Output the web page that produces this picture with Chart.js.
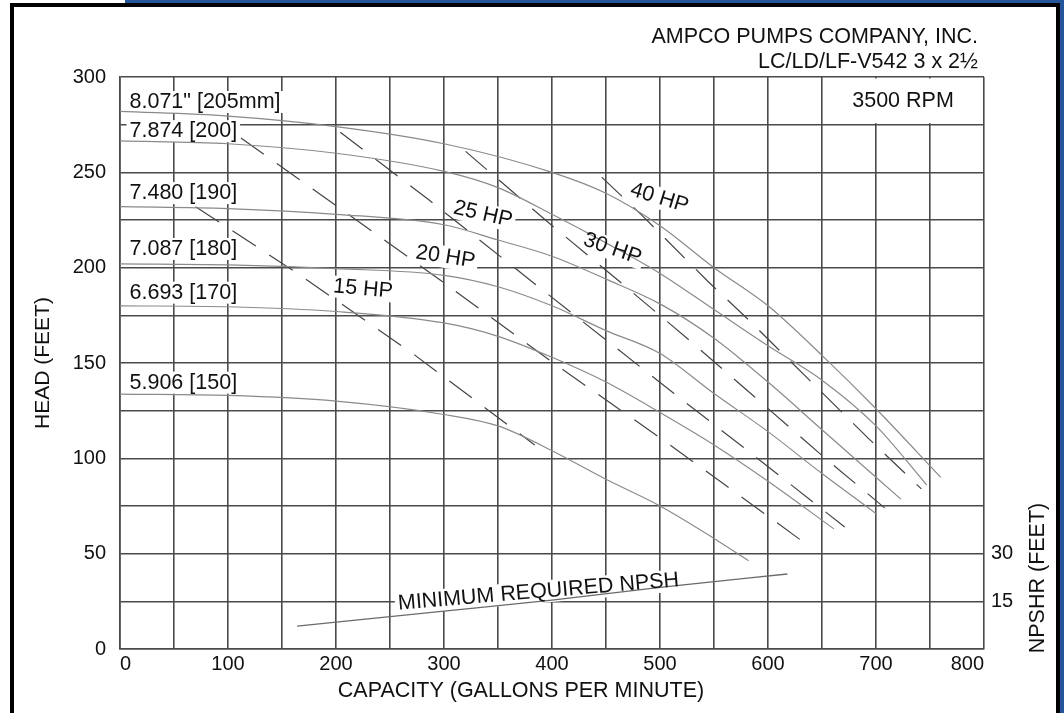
<!DOCTYPE html>
<html>
<head>
<meta charset="utf-8">
<script src="https://cdn.jsdelivr.net/npm/chart.js@4.4.0/dist/chart.umd.min.js"></script>
<style>
  html, body { margin: 0; padding: 0; background: #fff; }
  body { width: 1064px; height: 713px; position: relative; overflow: hidden; }
  #blueTop { position: absolute; left: 125px; top: 0; width: 939px; height: 4px; background: #24559b; }
  #blueRight { position: absolute; left: 1060px; top: 0; width: 4px; height: 713px; background: #24559b; }
  #frame { position: absolute; left: 10px; top: 3px; width: 1042px; height: 760px; border: 4px solid #000; border-bottom: none; }
  #pumpChart { position: absolute; left: 0; top: 0; }
</style>
</head>
<body>
<div id="blueTop"></div>
<div id="blueRight"></div>
<div id="frame"></div>
<canvas id="pumpChart" width="1064" height="713"></canvas>
<script>
// tick labels
const gpmTicks = [0, 100, 200, 300, 400, 500, 600, 700, 800];
const headTicks = [0, 50, 100, 150, 200, 250, 300];
const npshTicks = [15, 30];

// impeller curves (capacity gpm / head ft)
const gpm205 = [0, 100, 200, 300, 400, 450, 500, 550, 600, 650, 700, 760];
const head205 = [282, 279.5, 274, 265, 250, 239, 222, 200, 180, 154, 126, 90];
const gpm200 = [0, 100, 200, 300, 350, 400, 450, 500, 550, 600, 650, 700, 747];
const head200 = [266.5, 265, 260, 250.5, 242, 228, 213, 197, 178, 159, 141, 117, 86];
const gpm190 = [0, 100, 200, 300, 350, 400, 450, 500, 550, 600, 650, 723];
const head190 = [232, 231, 228, 222.5, 214.5, 206, 194, 181, 163, 140, 115, 78.6];
const gpm180 = [0, 100, 200, 300, 350, 400, 450, 500, 550, 600, 650, 700];
const head180 = [202, 201.5, 199.5, 196, 190, 180, 167, 155, 134, 114, 92, 71];
const gpm170 = [0, 100, 200, 300, 350, 400, 450, 500, 550, 600, 661];
const head170 = [180, 179.5, 177, 171, 164, 153, 140, 124, 107, 88, 63];
const gpm150 = [0, 100, 200, 300, 350, 400, 450, 500, 550, 582];
const head150 = [133.7, 133, 130, 123, 117, 104, 89, 75, 58, 46.3];

// horsepower lines
const hp15Gpm = [70, 167, 271, 384];
const hp15Head = [232, 196, 155, 107];
const hp20Gpm = [112, 209, 299, 400, 502, 604, 633];
const hp20Head = [268, 229, 192.5, 150.5, 110, 68, 56];
const hp25Gpm = [204, 285, 383, 448, 513, 579, 671];
const hp25Head = [271, 236, 192, 163, 134, 105, 64];
const hp30Gpm = [320, 398, 462, 525, 588, 651, 708];
const hp30Head = [261, 223, 193, 163, 132, 101, 74];
const hp40Gpm = [446, 485, 544, 585, 633, 692, 742];
const hp40Head = [247.5, 226.5, 193, 171, 144, 111, 84];

// minimum required NPSH (right axis, ft)
const npshGpm = [164, 300, 400, 500, 618];
const npshReq = [7.2, 11.9, 15.4, 19.4, 23.6];

const FONT = '"Liberation Sans", Arial, Helvetica, sans-serif';
Chart.defaults.font.family = FONT;

function pts(xs, ys) {
  return xs.map((x, i) => ({ x: x, y: ys[i] }));
}

function curve(xs, ys) {
  return {
    data: pts(xs, ys),
    borderColor: '#8a8a8a',
    borderWidth: 1.2,
    pointRadius: 0,
    cubicInterpolationMode: 'monotone',
    yAxisID: 'y'
  };
}

function hpLine(xs, ys) {
  return {
    data: pts(xs, ys),
    borderColor: '#444',
    borderWidth: 1.2,
    borderDash: [28, 16],
    pointRadius: 0,
    tension: 0,
    yAxisID: 'y'
  };
}

function textItem(ctx, text, x, y, angle, align, pass) {
  ctx.save();
  ctx.translate(x, y);
  ctx.rotate(angle * Math.PI / 180);
  ctx.font = '21.5px ' + FONT;
  const w = ctx.measureText(text).width;
  const x0 = align === 'left' ? 0 : (align === 'right' ? -w : -w / 2);
  if (pass === 'bg') {
    ctx.fillStyle = '#fff';
    ctx.fillRect(x0 - 3, -11, w + 6, 22);
  } else {
    ctx.fillStyle = '#111';
    ctx.textAlign = 'left';
    ctx.textBaseline = 'middle';
    ctx.fillText(text, x0, 0);
  }
  ctx.restore();
}

const curveLabels = [
  ['8.071" [205mm]', 8.8, 286.9, 0],
  ['7.874 [200]', 8.8, 271.6, 0],
  ['7.480 [190]', 8.8, 239.1, 0],
  ['7.087 [180]', 8.8, 209.8, 0],
  ['6.693 [170]', 8.8, 186.9, 0],
  ['5.906 [150]', 8.8, 139.7, 0]
];
const hpLabels = [
  ['15 HP', 225, 188.8, 5],
  ['20 HP', 301.4, 205.6, 9],
  ['25 HP', 336, 228, 13],
  ['30 HP', 456, 209.8, 19],
  ['40 HP', 499.5, 236.5, 17],
  ['MINIMUM REQUIRED NPSH', 387.5, 29.9, -4.8]
];

function drawNotes(chart, pass) {
  const ctx = chart.ctx;
  const xs = chart.scales.x, ys = chart.scales.y;
  const area = chart.chartArea;
  curveLabels.forEach(l => {
    textItem(ctx, l[0], xs.getPixelForValue(l[1]), ys.getPixelForValue(l[2]), l[3], 'left', pass);
  });
  hpLabels.forEach(l => {
    textItem(ctx, l[0], xs.getPixelForValue(l[1]), ys.getPixelForValue(l[2]), l[3], 'center', pass);
  });
  // 3500 RPM box
  const bx = xs.getPixelForValue(650), by = ys.getPixelForValue(275);
  if (pass === 'bg') {
    ctx.save();
    ctx.fillStyle = '#fff';
    ctx.fillRect(bx + 1.5, area.top + 1.5, area.right - bx - 3, by - area.top - 3);
    ctx.restore();
  } else {
    textItem(ctx, '3500 RPM', (bx + area.right) / 2, (area.top + by) / 2, 0, 'center', 'fg');
  }
}

const notesPlugin = {
  id: 'notes',
  beforeDatasetsDraw(chart) {
    drawNotes(chart, 'bg');
  },
  afterDatasetsDraw(chart) {
    drawNotes(chart, 'fg');
    const area = chart.chartArea;
    const ctx = chart.ctx;
    textItem(ctx, 'AMPCO PUMPS COMPANY, INC.', area.right - 6, 37, 0, 'right', 'fg');
    textItem(ctx, 'LC/LD/LF-V542 3 x 2½', area.right - 6, 62, 0, 'right', 'fg');
    textItem(ctx, 'CAPACITY (GALLONS PER MINUTE)', 521, 691, 0, 'center', 'fg');
    textItem(ctx, 'NPSHR (FEET)', 1038, 578, -90, 'center', 'fg');
  }
};

const gridColor = '#4a4a4a';

const datasets = [
  curve(gpm205, head205),
  curve(gpm200, head200),
  curve(gpm190, head190),
  curve(gpm180, head180),
  curve(gpm170, head170),
  curve(gpm150, head150),
  hpLine(hp15Gpm, hp15Head),
  hpLine(hp20Gpm, hp20Head),
  hpLine(hp25Gpm, hp25Head),
  hpLine(hp30Gpm, hp30Head),
  hpLine(hp40Gpm, hp40Head),
  {
    data: pts(npshGpm, npshReq),
    borderColor: '#6a6a6a',
    borderWidth: 1.3,
    pointRadius: 0,
    cubicInterpolationMode: 'monotone',
    yAxisID: 'y2'
  }
];

new Chart(document.getElementById('pumpChart').getContext('2d'), {
  type: 'line',
  data: { datasets: datasets },
  plugins: [notesPlugin],
  options: {
    responsive: false,
    devicePixelRatio: 1,
    animation: false,
    layout: { padding: { top: 77, left: 0, right: 0, bottom: 0 } },
    plugins: {
      legend: { display: false },
      tooltip: { enabled: false }
    },
    scales: {
      x: {
        type: 'linear',
        position: 'bottom',
        min: 0,
        max: 800,
        afterFit: s => { s.height = 64; },
        grid: { color: gridColor, lineWidth: 1.6, drawTicks: false },
        border: { color: gridColor, width: 1.6 },
        ticks: {
          stepSize: 50,
          autoSkip: false,
          maxRotation: 0,
          align: 'inner',
          padding: 3,
          color: '#111',
          font: { size: 20 },
          callback: v => gpmTicks.includes(v) ? String(v) : ''
        }
      },
      y: {
        type: 'linear',
        position: 'left',
        min: 0,
        max: 300,
        afterFit: s => { s.width = 120; },
        grid: { color: gridColor, lineWidth: 1.6, drawTicks: false },
        border: { color: gridColor, width: 1.6 },
        title: {
          display: true,
          text: 'HEAD (FEET)',
          color: '#111',
          font: { size: 21 },
          padding: { top: 31, bottom: 0 }
        },
        ticks: {
          stepSize: 25,
          padding: 14,
          color: '#111',
          font: { size: 20 },
          callback: v => headTicks.includes(v) ? String(v) : ''
        }
      },
      y2: {
        type: 'linear',
        position: 'right',
        min: 0,
        max: 180,
        afterFit: s => { s.width = 80; },
        afterBuildTicks: s => { s.ticks = npshTicks.map(v => ({ value: v })); },
        grid: { display: false, drawTicks: false },
        border: { display: false },
        ticks: {
          padding: 7,
          color: '#111',
          font: { size: 20 }
        }
      }
    }
  }
});
</script>
</body>
</html>
